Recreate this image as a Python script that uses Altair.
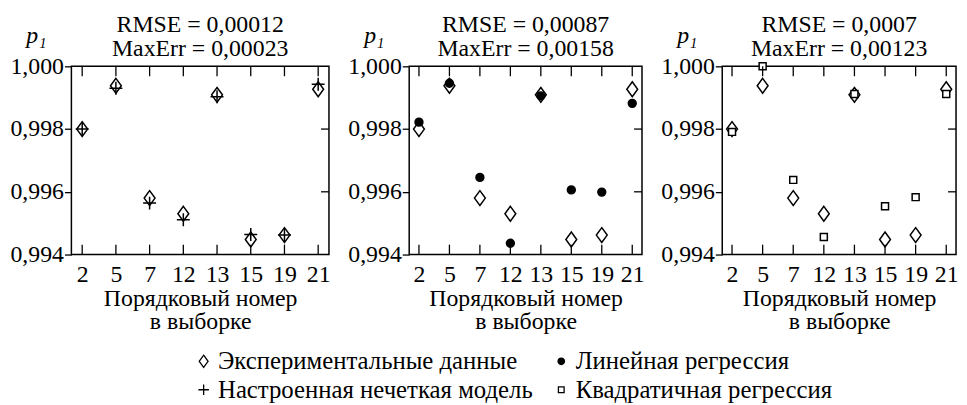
import altair as alt
import pandas as pd

# ---- data ----
samples = ["2", "5", "7", "12", "13", "15", "19", "21"]
experimental = [0.99800, 0.99938, 0.99580, 0.99530, 0.99909, 0.99448, 0.99462, 0.99927]
fuzzy_model = [0.99800, 0.99930, 0.99564, 0.99511, 0.99903, 0.99464, 0.99462, 0.99943]
linear_reg = [0.99822, 0.99946, 0.99646, 0.99436, 0.99906, 0.99606, 0.99599, 0.99882]
quadratic_reg = [0.99791, 1.00000, 0.99638, 0.99456, 0.99912, 0.99554, 0.99583, 0.99912]

# legend fills column by column: column 1 = first two, column 2 = last two
series_names = [
    "Экспериментальные данные",
    "Настроенная нечеткая модель",
    "Линейная регрессия",
    "Квадратичная регрессия",
]
panel_titles = [
    ["RMSE = 0,00012", "MaxErr = 0,00023"],
    ["RMSE = 0,00087", "MaxErr = 0,00158"],
    ["RMSE = 0,0007", "MaxErr = 0,00123"],
]
y_ticks = [0.994, 0.996, 0.998, 1.000]
inner_y_ticks = [0.996, 0.998]
x_title = ["Порядковый номер", "в выборке"]
y_title = "p₁"

# ---- styles ----
FONT = "Liberation Serif"
FS = 24
LFS = 25
H = 190
widths = [260, 235, 236]

shape_paths = [
    "M0,-1L0.73,0L0,1L-0.73,0Z",                                   # diamond
    "M-0.87,0L0.87,0M0,-0.87L0,0.87",                              # plus
    "M0.53,0A0.53,0.53 0 1,1 -0.53,0A0.53,0.53 0 1,1 0.53,0Z",      # dot
    "M-0.47,-0.47L0.47,-0.47L0.47,0.47L-0.47,0.47Z",               # square
]
fills = ["transparent", "transparent", "black", "white"]
strokes = ["black", "black", "black", "black"]

legend = alt.Legend(
    orient="none", legendX=121, legendY=285, columns=2, title=None,
    labelFont=FONT, labelFontSize=LFS, labelColor="black", labelLimit=0,
    symbolSize=150, symbolStrokeColor="black", symbolStrokeWidth=1.3,
    columnPadding=16, rowPadding=3, labelOffset=2, padding=0,
)

shape_enc = alt.Shape("series:N", scale=alt.Scale(domain=series_names, range=shape_paths), legend=legend)
fill_enc = alt.Fill("series:N", scale=alt.Scale(domain=series_names, range=fills), legend=legend)
stroke_enc = alt.Stroke("series:N", scale=alt.Scale(domain=series_names, range=strokes), legend=legend)

model_sets = [
    (series_names[1], fuzzy_model),
    (series_names[2], linear_reg),
    (series_names[3], quadratic_reg),
]


def panel(i):
    W = widths[i]
    model_name, model_vals = model_sets[i]
    df = pd.concat([
        pd.DataFrame({"sample": samples, "p": experimental, "series": series_names[0], "order": 0}),
        pd.DataFrame({"sample": samples, "p": model_vals, "series": model_name, "order": 1}),
    ])
    xscale = alt.Scale(type="point", domain=samples, padding=0.32)
    yscale = alt.Scale(domain=[0.994, 1.0], nice=False, zero=False)

    pts = alt.Chart(df).mark_point(filled=True, strokeWidth=1.5, opacity=1, size=225).encode(
        x=alt.X("sample:O", scale=xscale, sort=samples,
                axis=alt.Axis(title=x_title, labelAngle=0, ticks=False, tickSize=0, domain=False,
                              labelFont=FONT, labelFontSize=FS, labelColor="black", labelPadding=8,
                              titleFont=FONT, titleFontSize=FS, titleFontWeight="normal",
                              titleColor="black", titlePadding=0, titleLineHeight=24, grid=False)),
        y=alt.Y("p:Q", scale=yscale,
                axis=alt.Axis(values=y_ticks, labelExpr="replace(format(datum.value, '.3f'), '.', ',')",
                              domain=False, ticks=True, tickSize=7, tickColor="black", tickWidth=1.3,
                              labelPadding=1, labelFont=FONT, labelFontSize=FS, labelColor="black",
                              grid=False, title=y_title, titleAngle=0, titleFont=FONT, titleFontSize=FS,
                              titleFontStyle="italic", titleFontWeight="normal", titleColor="black",
                              titleAlign="left", titleBaseline="alphabetic", titleX=-46, titleY=-24)),
        shape=shape_enc,
        fill=fill_enc,
        stroke=stroke_enc,
        order=alt.Order("order:Q"),
    )

    xdf = pd.DataFrame({"sample": samples})
    top_ticks = alt.Chart(xdf).mark_rule(color="black", strokeWidth=1.3).encode(
        x=alt.X("sample:O", scale=xscale, sort=samples), y=alt.value(0), y2=alt.value(10))
    bot_ticks = alt.Chart(xdf).mark_rule(color="black", strokeWidth=1.3).encode(
        x=alt.X("sample:O", scale=xscale, sort=samples), y=alt.value(H), y2=alt.value(H - 10))
    ydf = pd.DataFrame({"p": inner_y_ticks})
    right_ticks = alt.Chart(ydf).mark_rule(color="black", strokeWidth=1.3).encode(
        y=alt.Y("p:Q", scale=yscale), x=alt.value(W - 8), x2=alt.value(W))

    return alt.layer(pts, top_ticks, bot_ticks, right_ticks).properties(
        width=W, height=H,
        title=alt.TitleParams(panel_titles[i], font=FONT, fontSize=FS, fontWeight="normal",
                              color="black", anchor="middle", frame="group", offset=-38, lineHeight=25),
    )


chart = alt.hconcat(panel(0), panel(1), panel(2), spacing=81, bounds="flush").properties(
    padding={"left": 1, "top": 2, "right": 0, "bottom": 0},
).configure(font=FONT).configure_view(stroke="black", strokeWidth=1.5).resolve_scale(x="independent")

chart.save("out.html", embed_options={"renderer": "svg", "actions": False})
